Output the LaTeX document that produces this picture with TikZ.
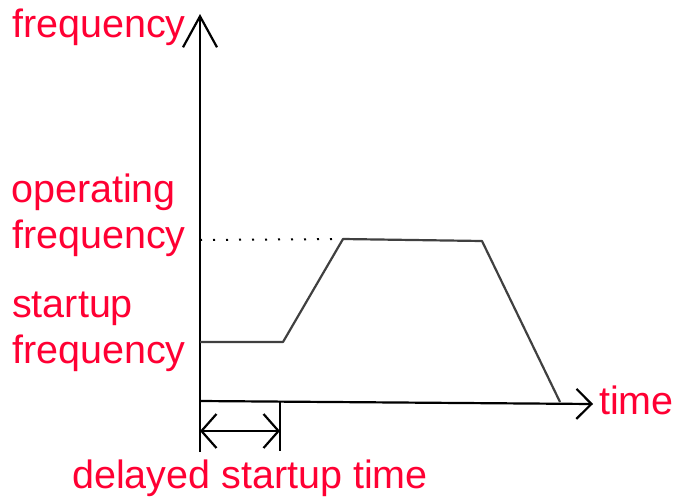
\documentclass[tikz,border=0pt]{standalone}
\usepackage{fontspec}
\setmainfont{Liberation Sans}
\usetikzlibrary{arrows.meta}
\definecolor{labelred}{RGB}{255,0,51}
\begin{document}
\begin{tikzpicture}[x=1pt,y=-1pt,
  lbl/.style={anchor=base west,inner sep=0pt,text=labelred,
    font=\fontsize{39.5}{46}\selectfont},
  axis/.style={line width=2.2pt,black},
  curve/.style={line width=2.2pt,black!75},
  barb/.style={line width=2.2pt},
  guide/.style={line width=2pt,black,dash pattern=on 2pt off 11pt}]
\useasboundingbox (0,0) rectangle (682,501);

% axes and reference points
\coordinate (o) at (200,401);
\coordinate (ybot) at (200,452);
\coordinate (ytop) at (200,14);
\coordinate (xend) at (593,404);
\coordinate (dtop) at (280,401);
\coordinate (dbot) at (280,451);
\coordinate (da) at (200,431);
\coordinate (db) at (280,431);

% frequency profile
\coordinate (s0) at (200,342);
\coordinate (s1) at (283,342);
\coordinate (p0) at (343,239);
\coordinate (p1) at (482,241);
\coordinate (e0) at (560,402);
\coordinate (op) at (200,240);

\draw[axis,-{Straight Barb[length=31pt,width=34pt,line width=2.2pt]}] (ybot) -- (ytop);
\draw[axis,-{Straight Barb[length=15pt,width=30pt,line width=2.2pt]}] (o) -- (xend);
\draw[axis] (dtop) -- (dbot);
\draw[axis,{Straight Barb[length=15pt,width=34pt,line width=2.2pt]}-{Straight Barb[length=15pt,width=34pt,line width=2.2pt]}] (da) -- (db);

\draw[guide] (op) -- (p0);
\draw[curve,line join=round] (s0) -- (s1) -- (p0) -- (p1) -- (e0);

% labels
\node[lbl] (lfreq) at (12,37) {frequency};
\node[lbl] (lop1) at (11,202) {operating};
\node[lbl] (lop2) at (12,248) {frequency};
\node[lbl] (lst1) at (12,317) {startup};
\node[lbl] (lst2) at (12,363) {frequency};
\node[lbl] (ltime) at (599,414) {time};
\node[lbl] (ldel) at (72,488) {delayed startup time};
\end{tikzpicture}
\end{document}
